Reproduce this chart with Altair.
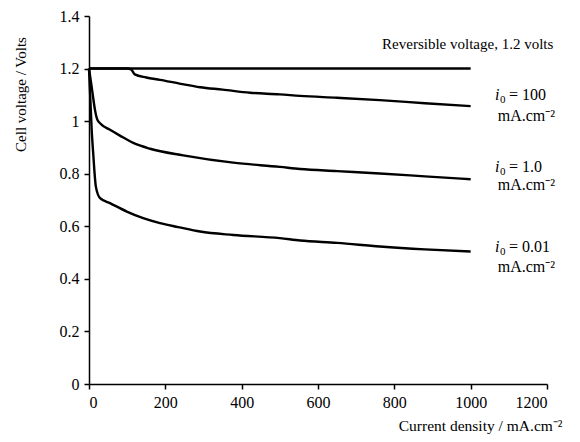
import altair as alt
import pandas as pd

# Reversible voltage line
rev_x = [0, 1000]
rev_y = [1.2, 1.2]

# i0 = 100 mA/cm2
c100_x = [0, 50, 100, 110, 120, 150, 186, 240, 291, 350, 422, 500, 553, 650, 762, 880, 1000]
c100_y = [1.2, 1.2, 1.2, 1.197, 1.178, 1.166, 1.157, 1.142, 1.129, 1.12, 1.108, 1.102, 1.096, 1.089, 1.08, 1.068, 1.057]

# i0 = 1.0 mA/cm2
c1_x = [0, 8, 16, 22, 32, 55, 80, 116, 160, 247, 378, 500, 553, 650, 762, 880, 1000]
c1_y = [1.2, 1.12, 1.04, 1.005, 0.988, 0.967, 0.946, 0.917, 0.895, 0.870, 0.842, 0.826, 0.818, 0.81, 0.801, 0.79, 0.779]

# i0 = 0.01 mA/cm2
c001_x = [0, 7, 11, 18, 29, 55, 99, 142, 186, 234, 291, 378, 500, 553, 650, 762, 880, 1000]
c001_y = [1.2, 0.967, 0.878, 0.751, 0.707, 0.688, 0.656, 0.631, 0.612, 0.597, 0.580, 0.567, 0.555, 0.546, 0.537, 0.523, 0.512, 0.504]

x_ticks = [0, 200, 400, 600, 800, 1000, 1200]
y_ticks = [0, 0.2, 0.4, 0.6, 0.8, 1.0, 1.2, 1.4]

# Annotation texts and anchor points (data coordinates)
top_label = ["Reversible voltage, 1.2 volts"]
top_label_x = [768]
top_label_y = [1.274]

i0_values = ["= 100", "= 1.0", "= 0.01"]
i0_x = [1064, 1064, 1064]
i0_y = [1.081, 0.807, 0.503]
unit_y = [1.0, 0.738, 0.427]
unit_x = [1071, 1071, 1071]

rows = []
for name, xs_, ys_ in [("rev", rev_x, rev_y), ("c100", c100_x, c100_y),
                       ("c1", c1_x, c1_y), ("c001", c001_x, c001_y)]:
    for i, (a, b) in enumerate(zip(xs_, ys_)):
        rows.append({"series": name, "x": a, "y": b, "order": i})
df = pd.DataFrame(rows)

xs = alt.Scale(domain=[0, 1200], nice=False)
ys = alt.Scale(domain=[0, 1.4], nice=False)

FONT = "Liberation Serif"

lines = alt.Chart(df).mark_line(color="black", strokeWidth=2.4, interpolate="monotone").encode(
    x=alt.X("x:Q", scale=xs,
            axis=alt.Axis(values=x_ticks, format="d",
                          title="Current density / mA.cm\u207b\u00b2",
                          titleX=473, titleY=46, titleAlign="right",
                          titleBaseline="alphabetic", titleFontWeight="normal",
                          titleFontSize=15.5, labelFontSize=16, labelPadding=5,
                          labelFont=FONT, titleFont=FONT)),
    y=alt.Y("y:Q", scale=ys,
            axis=alt.Axis(values=y_ticks, format="~g", title="Cell voltage / Volts",
                          titleX=-69, titleY=78, titleAlign="center", titleAngle=270,
                          titleBaseline="middle", titleFontWeight="normal",
                          titleFontSize=15, labelFontSize=16, labelPadding=5,
                          labelFont=FONT, titleFont=FONT)),
    detail="series:N",
    order="order:Q",
)

top_df = pd.DataFrame({"t": top_label, "x": top_label_x, "y": top_label_y})
top_text = alt.Chart(top_df).mark_text(
    align="left", baseline="alphabetic", font=FONT, fontSize=15, color="black"
).encode(x=alt.X("x:Q", scale=xs), y=alt.Y("y:Q", scale=ys), text="t:N")

lab_df = pd.DataFrame({"v": i0_values, "x": i0_x, "y": i0_y,
                       "ux": unit_x, "uy": unit_y,
                       "i": ["i"] * 3, "zero": ["0"] * 3,
                       "unit": ["mA.cm\u207b\u00b2"] * 3})
base_lab = alt.Chart(lab_df)
i_text = base_lab.mark_text(
    align="left", baseline="alphabetic", font=FONT, fontSize=16,
    fontStyle="italic", color="black"
).encode(x=alt.X("x:Q", scale=xs), y=alt.Y("y:Q", scale=ys), text="i:N")
zero_text = base_lab.mark_text(
    align="left", baseline="alphabetic", font=FONT, fontSize=11,
    dx=5, dy=3, color="black"
).encode(x=alt.X("x:Q", scale=xs), y=alt.Y("y:Q", scale=ys), text="zero:N")
val_text = base_lab.mark_text(
    align="left", baseline="alphabetic", font=FONT, fontSize=16,
    dx=14, color="black"
).encode(x=alt.X("x:Q", scale=xs), y=alt.Y("y:Q", scale=ys), text="v:N")
unit_text = base_lab.mark_text(
    align="left", baseline="alphabetic", font=FONT, fontSize=16, color="black"
).encode(x=alt.X("ux:Q", scale=xs), y=alt.Y("uy:Q", scale=ys), text="unit:N")

chart = alt.layer(lines, top_text, i_text, zero_text, val_text, unit_text).properties(
    width=458, height=368,
    background="white",
    autosize=alt.AutoSizeParams(type="none"),
    padding={"left": 81, "top": 8, "right": 25, "bottom": 50},
).configure_view(stroke=None).configure_axis(
    grid=False, domainColor="black", domainWidth=1.5, tickColor="black",
    tickWidth=1.5, tickSize=5, labelColor="black", titleColor="black",
    labelFont=FONT, titleFont=FONT,
)

chart.save("out.html", embed_options={"renderer": "svg", "actions": False})
